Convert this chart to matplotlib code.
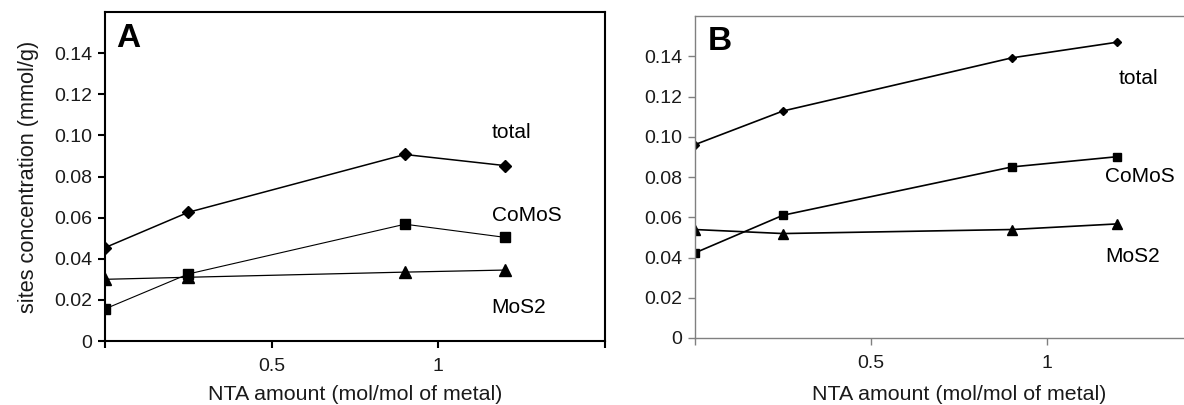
import matplotlib
matplotlib.use("Agg")
import matplotlib.pyplot as plt

plt.rcParams['font.family'] = ['Liberation Sans', 'DejaVu Sans']

# NTA amount (mol/mol of metal)
nta = [0, 0.25, 0.9, 1.2]

# panel A: sites concentration (mmol/g)
a_total = [0.0454, 0.0626, 0.0907, 0.0853]
a_comos = [0.0156, 0.0326, 0.0568, 0.0504]
a_mos2 = [0.0300, 0.0310, 0.0335, 0.0345]

# panel B
b_total = [0.0961, 0.1128, 0.1392, 0.1470]
b_comos = [0.0423, 0.0610, 0.0850, 0.0901]
b_mos2 = [0.0539, 0.0519, 0.0539, 0.0567]

series_names = ['total', 'CoMoS', 'MoS2']
yticks = [0, 0.02, 0.04, 0.06, 0.08, 0.10, 0.12, 0.14]
ytick_labels = ['0', '0.02', '0.04', '0.06', '0.08', '0.10', '0.12', '0.14']
xticks = [0, 0.5, 1, 1.5]
xtick_labels = ['', '0.5', '1', '']

W, H = 1184, 405
fig = plt.figure(figsize=(W / 100, H / 100), dpi=100)

# axes boxes in pixels (left, right, top, bottom)
axA = fig.add_axes([105 / W, 1 - 341 / H, 500 / W, 329 / H])
axB = fig.add_axes([695 / W, 1 - 338 / H, 528 / W, 322 / H])


def style_axes(ax, spine_color, lw, bottom_px, height_px):
    ax.set_xlim(0, 1.5)
    ax.set_ylim(0, 0.16)
    ax.set_yticks(yticks)
    ax.set_yticklabels(ytick_labels)
    ax.set_xticks(xticks)
    ax.set_xticklabels(xtick_labels)
    for s in ax.spines.values():
        s.set_color(spine_color)
        s.set_linewidth(lw)
    ax.tick_params(direction='out', length=5, width=lw, color=spine_color,
                   labelsize=14, labelcolor='#1a1a1a')
    ax.tick_params(axis='y', pad=4)
    ax.tick_params(axis='x', pad=7)
    ax.set_xlabel('NTA amount (mol/mol of metal)', fontsize=15.4,
                  color='#1a1a1a', va='center')
    # x label centred at y = 395 px
    ax.xaxis.set_label_coords(0.5, (bottom_px - 395) / height_px)


# panel A
axA.plot(nta, a_total, color='black', lw=1.1, marker='D', ms=6.5)
axA.plot(nta, a_comos, color='black', lw=0.8, marker='s', ms=7.2)
axA.plot(nta, a_mos2, color='black', lw=0.9, marker='^', ms=8.8)
style_axes(axA, 'black', 1.5, 341, 329)
axA.set_ylabel('sites concentration (mmol/g)', fontsize=15.7, labelpad=11,
               color='#1a1a1a')
axA.text(0.033, 0.147, 'A', fontsize=24, fontweight='bold', va='center')
axA.text(1.16, 0.1015, series_names[0], fontsize=15, va='center')
axA.text(1.16, 0.061, series_names[1], fontsize=15, va='center')
axA.text(1.16, 0.0164, series_names[2], fontsize=15, va='center')

# panel B
axB.plot(nta, b_total, color='black', lw=1.2, marker='D', ms=3.9)
axB.plot(nta, b_comos, color='black', lw=1.2, marker='s', ms=5.3)
axB.plot(nta, b_mos2, color='black', lw=1.2, marker='^', ms=6.5)
style_axes(axB, '#808080', 1.0, 338, 322)
axB.text(0.036, 0.1475, 'B', fontsize=24, fontweight='bold', va='center')
axB.text(1.204, 0.1287, series_names[0], fontsize=15, va='center')
axB.text(1.166, 0.0804, series_names[1], fontsize=15, va='center')
axB.text(1.166, 0.0406, series_names[2], fontsize=15, va='center')

fig.savefig('out.png', dpi=100)
